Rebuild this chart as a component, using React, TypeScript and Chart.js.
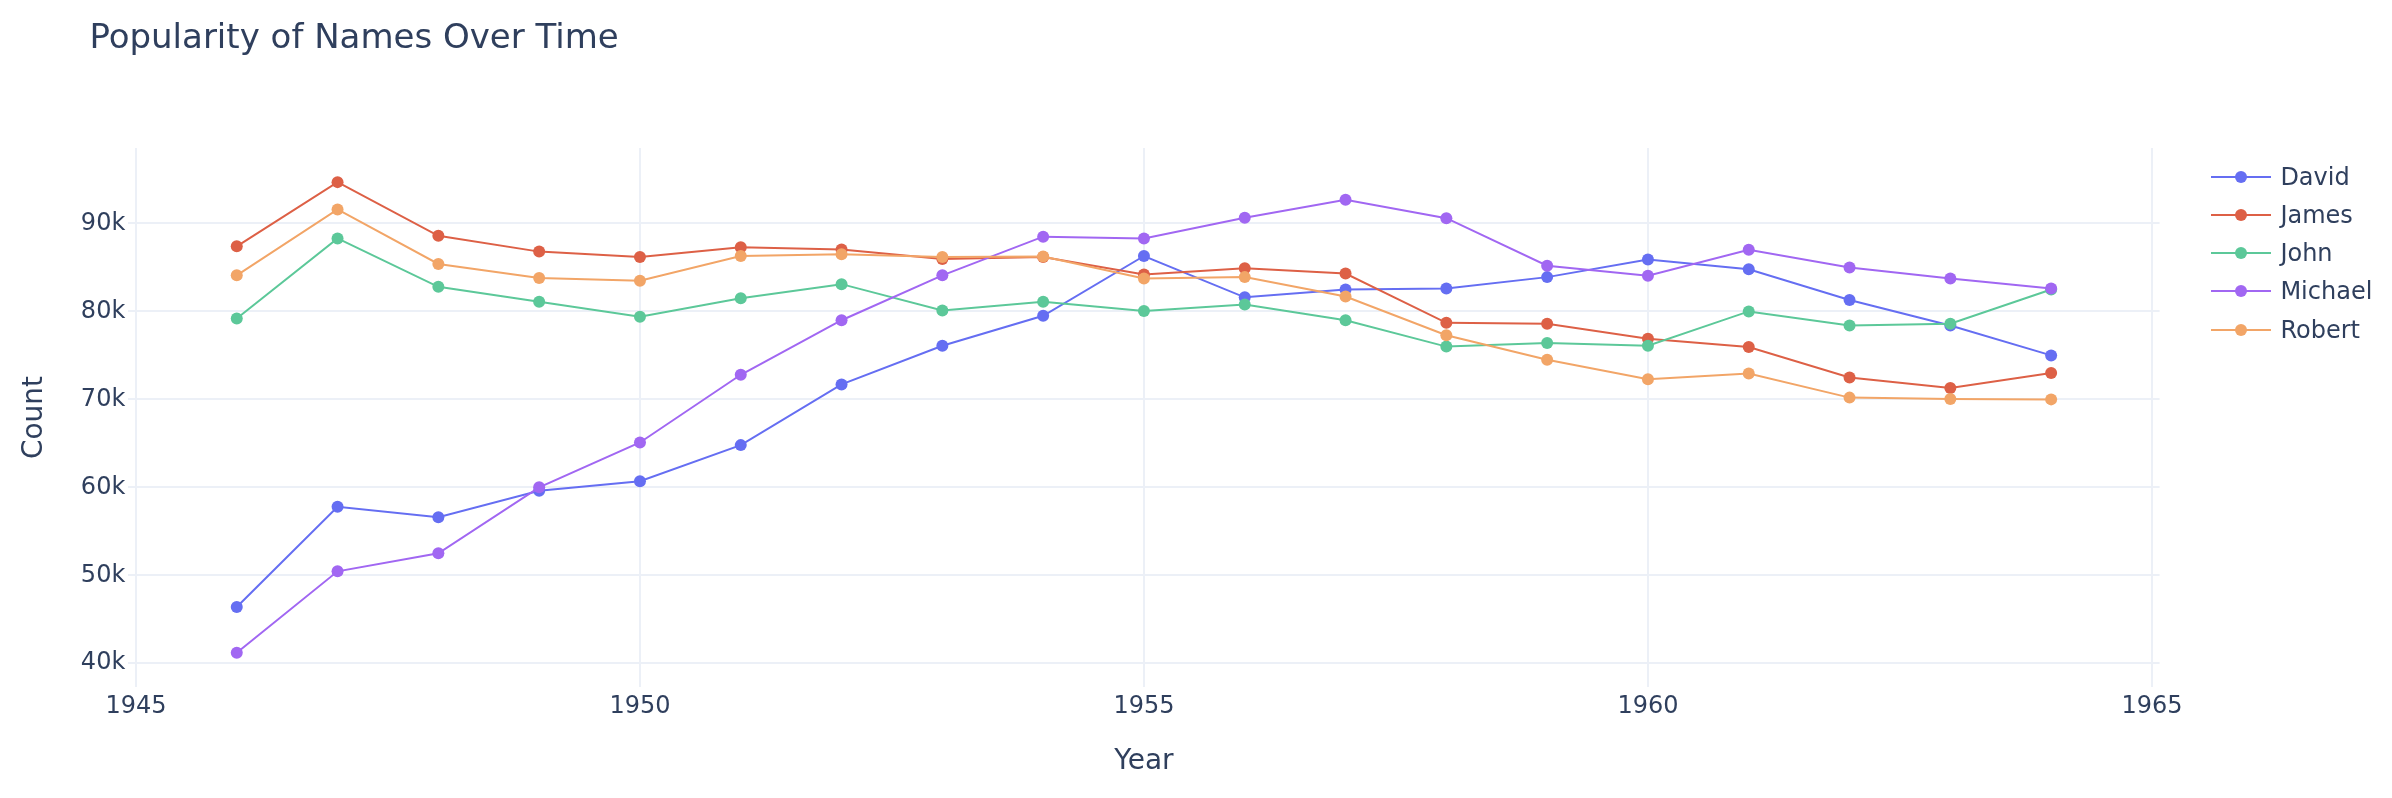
import { useEffect, useRef } from "react"
import { Chart, registerables } from "chart.js"

Chart.register(...registerables)

// values (births per year)
const years = [1946, 1947, 1948, 1949, 1950, 1951, 1952, 1953, 1954, 1955, 1956, 1957, 1958, 1959, 1960, 1961, 1962, 1963, 1964]
const david = [46400, 57800, 56600, 59600, 60700, 64800, 71700, 76100, 79500, 86300, 81600, 82500, 82600, 83900, 85900, 84800, 81300, 78400, 75000]
const james = [87400, 94700, 88600, 86800, 86200, 87300, 87050, 85950, 86200, 84200, 84900, 84300, 78700, 78600, 76900, 75950, 72500, 71300, 73000]
const john = [79200, 88300, 82800, 81100, 79400, 81500, 83100, 80100, 81100, 80050, 80800, 79000, 76000, 76400, 76100, 80000, 78400, 78600, 82500]
const michael = [41200, 50450, 52500, 60000, 65100, 72800, 79000, 84100, 88500, 88300, 90640, 92700, 90600, 85200, 84050, 87000, 85000, 83750, 82600]
const robert = [84100, 91600, 85400, 83800, 83500, 86300, 86500, 86200, 86250, 83750, 83900, 81700, 77300, 74500, 72300, 72950, 70200, 70050, 70000]

const seriesNames = ["David", "James", "John", "Michael", "Robert"]
const seriesValues = [david, james, john, michael, robert]
const seriesColors = ["#656ef2", "#dd6046", "#5cc899", "#a167f2", "#f2a567"]

const xTicks = [1945, 1950, 1955, 1960, 1965]
const yTicks = [40000, 50000, 60000, 70000, 80000, 90000]

const TEXT = "#2f3f5d"
const GRID = "#ecf0f7"
const FONT = 'Verdana, "DejaVu Sans", sans-serif'

function NamesChart() {
  const chartRef = useRef<HTMLCanvasElement>(null)
  const chartInstance = useRef<Chart | null>(null)

  useEffect(() => {
    if (!chartRef.current) return
    if (chartInstance.current) chartInstance.current.destroy()
    const ctx = chartRef.current.getContext("2d")
    if (!ctx) return

    chartInstance.current = new Chart(ctx, {
      type: "line",
      data: {
        datasets: seriesNames.map((name, i) => ({
          label: name,
          data: years.map((yr, j) => ({ x: yr, y: seriesValues[i][j] })),
          borderColor: seriesColors[i],
          backgroundColor: seriesColors[i],
          pointBackgroundColor: seriesColors[i],
          borderWidth: 2,
          pointRadius: 6,
          pointHoverRadius: 6,
          pointBorderWidth: 0,
          tension: 0,
          fill: false,
          // later series on top, like the original
          order: seriesNames.length - i,
        })),
      },
      options: {
        animation: false,
        responsive: true,
        maintainAspectRatio: false,
        layout: { padding: { left: 0, top: 148, right: 232.4, bottom: 0 } },
        plugins: {
          legend: { display: false },
          title: { display: false },
          tooltip: { enabled: false },
        },
        scales: {
          x: {
            type: "linear",
            min: 1944.924,
            max: 1965.076,
            afterBuildTicks: (s) => {
              s.ticks = xTicks.map((v) => ({ value: v }))
            },
            afterFit: (s) => {
              s.height = 111
            },
            grid: { color: GRID, lineWidth: 2, drawTicks: false },
            border: { display: false },
            ticks: {
              font: { family: FONT, size: 24 },
              color: TEXT,
              padding: 5.5,
              autoSkip: false,
              maxRotation: 0,
              callback: (v) => String(v),
            },
            title: {
              display: true,
              text: "Year",
              font: { family: FONT, size: 28 },
              color: TEXT,
              padding: { top: 0, bottom: 19 },
            },
          },
          y: {
            min: 37300,
            max: 98580,
            afterBuildTicks: (s) => {
              s.ticks = yTicks.map((v) => ({ value: v }))
            },
            afterFit: (s) => {
              s.width = 128.3
            },
            grid: { color: GRID, lineWidth: 2, drawTicks: false },
            border: { display: false },
            ticks: {
              font: { family: FONT, size: 24 },
              color: TEXT,
              padding: 3,
              callback: (v) => Number(v) / 1000 + "k",
            },
            title: {
              display: true,
              text: "Count",
              font: { family: FONT, size: 28 },
              color: TEXT,
              padding: { top: 17.8, bottom: 0 },
            },
          },
        },
      },
    })

    return () => {
      if (chartInstance.current) {
        chartInstance.current.destroy()
        chartInstance.current = null
      }
    }
  }, [])

  return <canvas ref={chartRef} />
}

export default function App() {
  return (
    <div
      style={{
        position: "fixed",
        left: 0,
        top: 0,
        width: 2392,
        height: 798,
        background: "#fff",
        fontFamily: FONT,
        color: TEXT,
      }}
    >
      <div style={{ position: "absolute", inset: 0 }}>
        <NamesChart />
      </div>
      <div
        style={{
          position: "absolute",
          left: 89.4,
          top: 18.5,
          fontSize: 34,
          lineHeight: "34px",
          whiteSpace: "nowrap",
        }}
      >
        Popularity of Names Over Time
      </div>
      {seriesNames.map((name, i) => (
        <div
          key={name}
          style={{
            position: "absolute",
            left: 2211,
            top: 176.7 + i * 38.2 - 12,
            height: 24,
            display: "flex",
            alignItems: "center",
          }}
        >
          <div style={{ position: "relative", width: 60, height: 24 }}>
            <div style={{ position: "absolute", left: 0, top: 11, width: 60, height: 2, background: seriesColors[i] }} />
            <div
              style={{
                position: "absolute",
                left: 24,
                top: 6,
                width: 12,
                height: 12,
                borderRadius: "50%",
                background: seriesColors[i],
              }}
            />
          </div>
          <span style={{ marginLeft: 9.4, fontSize: 24, lineHeight: "24px", whiteSpace: "nowrap" }}>{name}</span>
        </div>
      ))}
    </div>
  )
}
